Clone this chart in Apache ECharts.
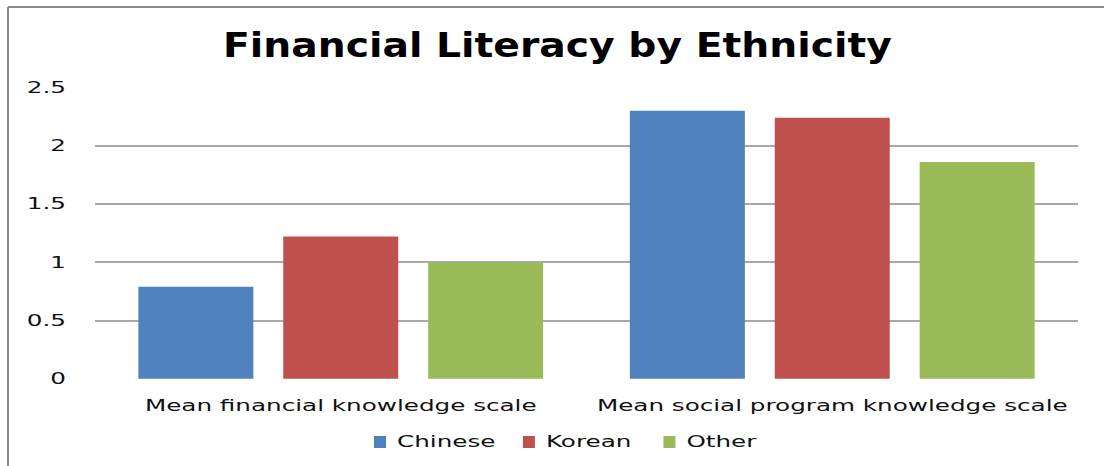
<!DOCTYPE html>
<html>
<head>
<meta charset="utf-8">
<script src="https://cdn.jsdelivr.net/npm/echarts@6/dist/echarts.min.js"></script>
<style>html,body{margin:0;padding:0;background:#fff;}#c{width:1104px;height:466px;}</style>
</head>
<body>
<div id="c"></div>
<script>
const categories = ["Mean financial knowledge scale", "Mean social program knowledge scale"];
const seriesNames = ["Chinese", "Korean", "Other"];
const chinese = [0.79, 2.30];
const korean = [1.22, 2.24];
const other = [1.00, 1.86];
const yTicks = [0, 0.5, 1, 1.5, 2, 2.5];
const colors = ["#4F81BD", "#C0504D", "#9BBB59"];

const chart = echarts.init(document.getElementById('c'), null, { renderer: 'svg' });
const font = "DejaVu Sans";
chart.setOption({
  animation: false,
  backgroundColor: '#fff',
  title: {
    text: 'Financial Literacy by Ethnicity',
    left: 218, top: 24,
    textStyle: { fontFamily: font, fontWeight: 'bold', fontSize: 33, color: '#000' }
  },
  graphic: [
    { type: 'line', shape: { x1: 8, y1: 7, x2: 1104, y2: 7 }, style: { stroke: '#8a8a8a', lineWidth: 2 } },
    { type: 'line', shape: { x1: 8, y1: 7, x2: 8, y2: 466 }, style: { stroke: '#8a8a8a', lineWidth: 2 } }
  ],
  legend: {
    data: seriesNames,
    bottom: 11, left: 369,
    itemWidth: 12, itemHeight: 12, itemGap: 62,
    icon: 'rect',
    textStyle: { fontFamily: font, fontSize: 16, color: '#111', padding: [0, 0, 0, 6] }
  },
  grid: { left: 95, right: 26, top: 87.4, bottom: 87.3 },
  xAxis: {
    type: 'category', data: categories,
    axisLine: { show: false }, axisTick: { show: false },
    axisLabel: { fontFamily: font, fontSize: 16, color: '#111', margin: 19 }
  },
  yAxis: {
    type: 'value', min: yTicks[0], max: yTicks[yTicks.length - 1], interval: 0.5,
    axisLine: { show: false }, axisTick: { show: false },
    splitLine: { show: true, showMinLine: false, showMaxLine: false, lineStyle: { color: '#8c8c8c', width: 1.5 } },
    axisLabel: { fontFamily: font, fontSize: 16, color: '#111', margin: 29 }
  },
  series: [
    { name: seriesNames[0], type: 'bar', data: chinese, itemStyle: { color: colors[0] }, barWidth: 115, barGap: '26%' },
    { name: seriesNames[1], type: 'bar', data: korean, itemStyle: { color: colors[1] }, barWidth: 115, barGap: '26%' },
    { name: seriesNames[2], type: 'bar', data: other, itemStyle: { color: colors[2] }, barWidth: 115, barGap: '26%' }
  ]
});

// The reference text is horizontally stretched; stretch each text about its anchor point.
function stretchText() {
  document.querySelectorAll('#c svg text').forEach(function (t) {
    if (t.dataset.orig === undefined) t.dataset.orig = t.getAttribute('transform') || '';
    const fs = parseFloat(getComputedStyle(t).fontSize);
    const s = fs > 25 ? 1.19 : 1.54;
    const x = parseFloat(t.getAttribute('x') || '0');
    t.setAttribute('transform', (t.dataset.orig + ' translate(' + x + ' 0) scale(' + s + ' 1) translate(' + (-x) + ' 0)').trim());
  });
}
stretchText();
chart.on('finished', stretchText);
setTimeout(stretchText, 50);
</script>
</body>
</html>
